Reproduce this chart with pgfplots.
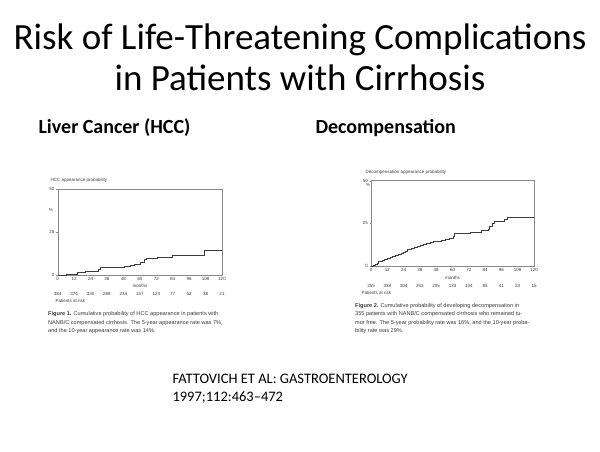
\documentclass[border=0pt]{standalone}
\usepackage{fontspec}
\setmainfont{Carlito}
\newfontfamily\fig{Liberation Sans}
\usepackage{pgfplots}
\pgfplotsset{compat=1.18}
\definecolor{figgray}{HTML}{3C3C3C}
\definecolor{boxgray}{HTML}{888888}

% step data (months, %)
\pgfplotstableread{
m p
0 0
6.5 0.6
14.6 1.4
20 2.1
29.5 3.5
31 4.3
49 5.0
52.7 5.4
56 6.2
60 7.4
63.5 9.3
65 9.7
73 10.5
84 11.4
107 14.1
120 14.1
}\hcc
\pgfplotstableread{
m p
0 0
2 0.5
3.5 1.2
4.5 1.8
5.5 2.5
7 3.0
8.5 3.6
10 4.2
12 4.7
14 5.3
16 5.8
18 6.4
20 6.9
22 7.5
23.5 8.2
25 8.8
26.5 9.5
28 10.0
30 10.4
32 11.0
34 11.5
36 12.0
38.5 12.6
41 13.1
43.5 13.7
46 14.2
49 14.7
52 15.2
55 15.8
58 16.3
60.5 17.2
61.5 18.9
73 20.0
81 20.8
86 21.5
87 23.2
89.5 25.0
91 26.4
98.5 27.2
100 28.5
120 28.5
}\decomp

\pgfplotsset{km/.style={
    anchor=south west, scale only axis,
    xmin=0, xmax=120, ymin=0, ymax=50,
    xtick={0,12,...,120}, ytick={0,25,50},
    tick pos=left, tick align=outside,
    axis line style={boxgray, line width=0.4pt},
    tick style={boxgray, line width=0.3pt},
    major tick length=1.5pt,
    ticklabel style={font=\fig\fontsize{4.5}{5}\selectfont, text=figgray},
    xticklabel style={inner sep=1pt},
    yticklabel style={inner sep=1.5pt},
    /pgf/number format/assume math mode=true,
    clip=false}}

\begin{document}
\begin{tikzpicture}[x=1pt,y=1pt]
\fill[white] (0,0) rectangle (600,452);
\path[use as bounding box] (0,0) rectangle (600,452);

% title
\node[font=\fontsize{37}{41}\selectfont, align=center] at (300,395)
  {Risk of Life-Threatening Complications\\in Patients with Cirrhosis};
\node[font=\bfseries\fontsize{20}{24}\selectfont, anchor=west] at (35,324) {Liver Cancer (HCC)};
\node[font=\bfseries\fontsize{20}{24}\selectfont, anchor=west] at (312,324) {Decompensation};

% left chart
\begin{axis}[km, at={(57.7pt,177pt)}, width=164.3pt, height=86pt]
\addplot[const plot, figgray, line width=0.6pt] table[x=m, y=p] {\hcc};
\end{axis}
\begin{scope}[font=\fig\fontsize{4.5}{5}\selectfont, text=figgray]
\node[anchor=west] at (47,272) {HCC appearance probability};
\node at (51,242) {\%};
\node at (140,166) {months};
\foreach \n [count=\i from 0] in {384,374,330,288,234,157,123,77,52,38,21}
  \node at ({57.7+\i*16.43},158.3) {\n};
\node[anchor=west] at (52,151.3) {Patients at risk};
\end{scope}
\begin{scope}[font=\fig\fontsize{5.6}{8.7}\selectfont, text=figgray]
\node[anchor=west, align=left, inner sep=0pt] at (48,129.3)
  {\textbf{Figure 1.} Cumulative probability of HCC appearance in patients with\\
   NANB/C compensated cirrhosis. The 5-year appearance rate was 7\%,\\
   and the 10-year appearance rate was 14\%.};
\end{scope}

% right chart
\begin{axis}[km, at={(371pt,186pt)}, width=163pt, height=85.3pt]
\addplot[const plot, figgray, line width=0.6pt] table[x=m, y=p] {\decomp};
\end{axis}
\begin{scope}[font=\fig\fontsize{4.5}{5}\selectfont, text=figgray]
\node[anchor=west] at (362,279.3) {Decompensation appearance probability};
\node at (368,266.7) {\%};
\node at (452.5,174.3) {months};
\foreach \n [count=\i from 0] in {355,338,304,253,205,133,104,85,41,23,15}
  \node at ({371+\i*16.3},166.3) {\n};
\node[anchor=west] at (358,158.7) {Patients at risk};
\end{scope}
\begin{scope}[font=\fig\fontsize{5.6}{8.5}\selectfont, text=figgray]
\node[anchor=west, align=left, inner sep=0pt] at (355,133.4)
  {\textbf{Figure 2.} Cumulative probability of developing decompensation in\\
   355 patients with NANB/C compensated cirrhosis who remained tu-\\
   mor free. The 5-year probability rate was 16\%, and the 10-year proba-\\
   bility rate was 29\%.};
\end{scope}

% citation
\node[anchor=west, align=left, font=\fontsize{14.5}{18}\selectfont] at (169,63)
  {FATTOVICH ET AL: GASTROENTEROLOGY\\1997;112:463--472};
\end{tikzpicture}
\end{document}
